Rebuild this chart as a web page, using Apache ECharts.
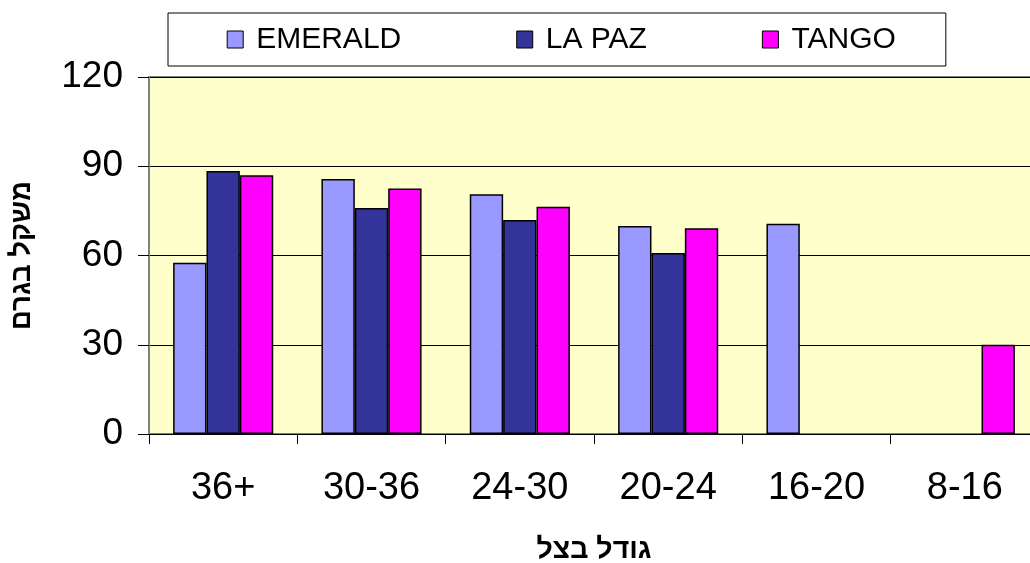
<!DOCTYPE html>
<html>
<head>
<meta charset="utf-8">
<script src="https://cdn.jsdelivr.net/npm/echarts@6/dist/echarts.min.js"></script>
<style>html,body{margin:0;padding:0;background:#fff}#c{width:1030px;height:563px}</style>
</head>
<body>
<div id="c"></div>
<script>
const categories = ['36+', '30-36', '24-30', '20-24', '16-20', '8-16'];
const seriesNames = ['EMERALD', 'LA PAZ', 'TANGO'];
const emerald = [57.6, 85.7, 80.6, 69.9, 70.7, null];
const lapaz = [88.4, 76.0, 71.9, 60.8, null, null];
const tango = [87.0, 82.5, 76.4, 69.2, null, 30.0];
const yTicks = [0, 30, 60, 90, 120];
const xTitle = 'גודל בצל';
const yTitle = 'משקל בגרם';
const colors = ['#9999FF', '#333399', '#FF00FF'];

const FONT = '"Liberation Sans", Arial, "DejaVu Sans", sans-serif';
const chart = echarts.init(document.getElementById('c'), null, {renderer: 'canvas'});
const values = [emerald, lapaz, tango];
chart.setOption({
  animation: false,
  textStyle: {fontFamily: FONT},
  legend: {
    data: seriesNames,
    left: 168, top: 13,
    padding: [11.5, 50, 11.5, 58.7],
    borderColor: '#000', borderWidth: 1,
    icon: 'rect',
    itemWidth: 16, itemHeight: 17, itemGap: 115,
    itemStyle: {borderColor: '#000', borderWidth: 1},
    textStyle: {fontSize: 30, lineHeight: 30, color: '#000', fontFamily: FONT, padding: [0, 0, 0, 8]}
  },
  grid: {
    left: 149, top: 77, width: 890, height: 357,
    outerBoundsMode: 'none', containLabel: false,
    show: true, backgroundColor: '#FFFFCC', borderColor: '#808080', borderWidth: 2
  },
  xAxis: {
    type: 'category', data: categories,
    axisLine: {lineStyle: {color: '#000', width: 1}},
    axisTick: {show: true, length: 10, lineStyle: {color: '#000'}},
    axisLabel: {fontSize: 38, color: '#000', margin: 36, fontFamily: FONT},
    name: xTitle, nameLocation: 'middle', nameGap: 102,
    nameTextStyle: {fontSize: 28.5, fontWeight: 'bold', color: '#000', fontFamily: FONT}
  },
  yAxis: {
    type: 'value', min: yTicks[0], max: yTicks[yTicks.length - 1], interval: 30,
    axisLine: {show: true, lineStyle: {color: '#808080', width: 2}},
    axisTick: {show: true, length: 11, lineStyle: {color: '#000'}},
    axisLabel: {fontSize: 37, color: '#000', margin: 26, fontFamily: FONT},
    splitLine: {show: true, lineStyle: {color: '#000', width: 1}},
    name: yTitle, nameLocation: 'middle', nameRotate: 90, nameGap: 113,
    nameTextStyle: {fontSize: 27.5, fontWeight: 'bold', color: '#000', fontFamily: FONT}
  },
  series: seriesNames.map((n, i) => ({
    name: n, type: 'bar', data: values[i],
    barGap: 0, barCategoryGap: '32.5%',
    itemStyle: {color: colors[i], borderColor: '#000', borderWidth: 1.5}
  }))
});
</script>
</body>
</html>
